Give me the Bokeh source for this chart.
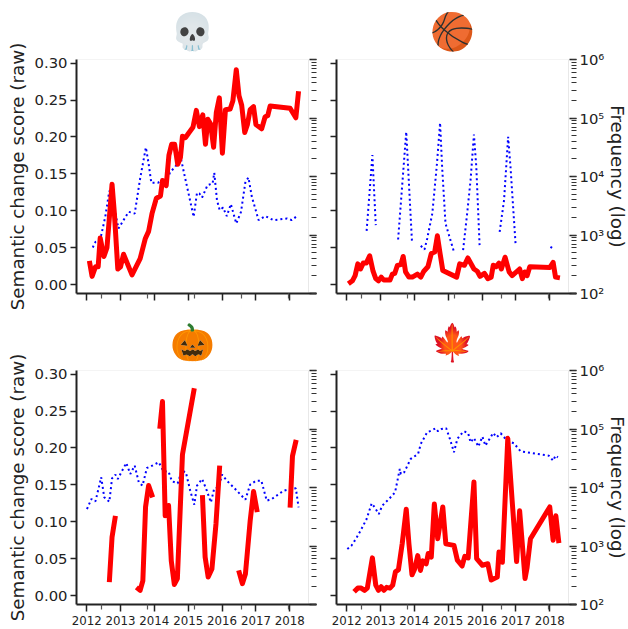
from bokeh.plotting import figure
from bokeh.layouts import column, row
from bokeh.models import (LinearAxis, LogAxis, Range1d, LogScale, FixedTicker, LogTicker, BoxAnnotation)
from bokeh.embed import file_html
from bokeh.resources import INLINE

nan = float("nan")

years = [2012, 2013, 2014, 2015, 2016, 2017, 2018]
twin_year_ticks = [2012.434, 2013.81, 2015.19, 2016.57, 2017.96]
score_ticks = [0.0, 0.05, 0.10, 0.15, 0.20, 0.25, 0.30]
score_labels = ["0.00", "0.05", "0.10", "0.15", "0.20", "0.25", "0.30"]
freq_labels = {100: "10²", 1000: "10³", 10000: "10⁴", 100000: "10⁵", 1000000: "10⁶"}
emoji = ["💀", "🏀", "🎃", "🍁"]

skull_score_x = [.08,.16,.26,.34,.40,.51,.60,.75,.82,.92,1.0,1.09,1.34,1.58,1.73,1.83,1.93,2.06,2.18,2.24,2.35,2.43,2.51,2.60,2.69,2.77,2.83,2.92,3.01,3.14,3.24,3.33,3.43,3.51,3.58,3.66,3.75,3.83,3.92,4.01,4.10,4.24,4.32,4.42,4.50,4.58,4.67,4.75,4.83,4.93,5.0,5.17,5.27,5.35,5.42,6.01,6.18,6.26]
skull_score = [.032,.011,.024,.024,.063,.038,.050,.136,.096,.021,.024,.041,.013,.035,.062,.072,.096,.117,.120,.141,.134,.175,.190,.190,.163,.172,.201,.199,.205,.213,.236,.214,.230,.190,.224,.218,.186,.233,.253,.178,.237,.238,.249,.291,.256,.243,.206,.217,.237,.241,.217,.211,.227,.229,.242,.239,.226,.262]
skull_freq_x = [.18,.26,.35,.43,.55,.67,.75,.85,.94,1.09,1.24,1.42,1.58,1.75,1.83,1.91,2.11,2.22,2.34,2.47,2.62,2.77,2.88,3.01,3.16,3.26,3.33,3.41,3.57,3.72,3.77,3.85,3.93,4.03,4.14,4.26,4.42,4.56,4.69,4.78,4.88,5.08,5.28,5.52,5.92,6.06,6.21]
skull_freq_log10 = [2.786,2.883,2.900,2.997,3.311,3.755,3.709,3.368,3.111,3.254,3.396,3.368,3.966,4.496,4.222,3.892,3.892,3.949,3.892,4.080,4.165,4.348,4.051,3.709,3.311,3.721,3.709,3.641,3.852,3.880,4.063,3.595,3.425,3.470,3.322,3.527,3.197,3.396,3.909,3.983,3.652,3.254,3.322,3.254,3.282,3.254,3.322]

ball_score_x = [.05,.17,.25,.33,.41,.49,.58,.68,.78,.86,.94,1.02,1.10,1.28,1.35,1.42,1.50,1.60,1.67,1.74,1.84,1.94,2.09,2.19,2.28,2.40,2.50,2.60,2.68,2.76,2.84,3.25,3.34,3.48,3.58,3.76,3.86,3.94,4.07,4.17,4.27,4.33,4.41,4.50,4.57,4.68,4.80,4.89,5.11,5.19,5.26,5.33,5.41,6.00,6.10,6.17,6.30]
ball_score = [.001,.005,.012,.028,.021,.029,.029,.039,.018,.008,.005,.010,.006,.006,.014,.015,.026,.027,.038,.017,.010,.010,.014,.010,.018,.024,.042,.044,.066,.042,.019,.010,.028,.026,.036,.021,.018,.011,.015,.008,.010,.026,.024,.029,.021,.037,.017,.012,.021,.008,.017,.012,.024,.023,.030,.010,.009]
ball_freq_x = [.59,.76,.86,nan,1.52,1.76,1.93,nan,2.19,2.30,2.38,2.53,2.66,2.76,2.82,2.92,3.17,nan,3.44,3.56,3.66,3.76,3.83,3.93,nan,4.52,4.65,4.77,4.84,4.99,nan,6.02,6.14]
ball_freq_log10 = [3.071,4.365,3.168,nan,2.923,4.764,2.883,nan,2.815,2.752,2.940,3.368,4.165,4.917,4.165,3.197,2.712,nan,2.741,3.368,3.937,4.718,4.165,2.786,nan,3.054,3.595,4.678,4.165,2.843,nan,2.798,2.752]

pumpkin_score_x = [.67,.75,.85,nan,1.47,1.58,1.66,1.74,1.83,1.95,nan,2.16,2.24,2.32,2.42,2.50,2.59,2.68,2.83,3.18,nan,3.42,3.50,3.59,3.70,3.82,3.93,nan,4.49,4.60,4.69,4.83,4.93,5.04,nan,6.01,6.08,6.19]
pumpkin_score = [.018,.079,.108,nan,.011,.007,.020,.120,.149,.133,nan,.226,.263,.108,.122,.047,.015,.023,.191,.281,nan,.136,.052,.025,.036,.097,.176,nan,.034,.016,.029,.101,.141,.113,nan,.119,.189,.211]
pumpkin_freq_x = [.01,.14,.26,.43,.52,.67,.75,.85,.92,1.17,1.29,1.42,1.54,1.65,1.78,1.88,2.13,2.27,2.42,2.52,2.69,2.81,2.93,3.06,3.18,3.26,3.41,3.55,3.67,3.77,3.90,4.00,4.14,4.34,4.69,4.83,5.01,5.16,5.32,5.47,5.82,6.01,6.18,6.26]
pumpkin_freq_log10 = [3.632,3.803,3.763,4.174,3.832,3.757,4.157,4.220,4.146,4.419,4.231,4.374,4.088,4.032,4.334,4.357,4.431,4.277,4.271,4.106,4.071,4.288,4.260,3.946,3.706,4.032,4.146,3.946,3.746,3.986,4.003,4.220,4.117,4.003,3.792,4.049,4.117,4.117,3.775,3.803,3.946,3.974,3.986,3.660]

leaf_score_x = [.22,.33,.43,.53,.61,.76,.86,.94,1.02,1.10,1.18,1.28,1.36,1.44,1.53,1.64,1.76,1.84,1.93,2.01,2.10,2.18,2.25,2.35,2.41,2.50,2.59,2.69,2.84,2.93,3.17,3.27,3.41,3.49,3.59,3.76,3.84,4.01,4.17,4.27,4.45,4.50,4.60,4.76,4.89,5.02,5.11,5.27,5.33,5.43,6.00,6.10,6.18,6.27]
leaf_score = [.005,.010,.010,.007,.010,.051,.014,.007,.012,.007,.011,.010,.014,.032,.035,.070,.117,.070,.028,.036,.054,.034,.047,.043,.057,.052,.124,.077,.120,.070,.068,.048,.040,.053,.051,.154,.050,.041,.043,.021,.025,.059,.045,.213,.128,.046,.115,.023,.038,.077,.120,.075,.108,.071]
leaf_freq_x = [.02,.14,.27,.41,.59,.74,.83,.95,1.05,1.25,1.43,1.57,1.60,1.70,1.89,2.11,2.19,2.38,2.50,2.63,2.70,2.80,2.94,3.05,3.17,3.27,3.37,3.47,3.59,3.66,3.76,3.89,4.01,4.10,4.33,4.43,4.55,4.74,4.94,5.14,5.33,5.63,5.97,6.10,6.17,6.24]
leaf_freq_log10 = [2.947,3.004,3.118,3.261,3.461,3.729,3.660,3.546,3.689,3.803,3.917,4.317,4.231,4.260,4.488,4.574,4.745,4.945,4.973,5.013,4.961,5.0,5.013,4.830,4.602,4.830,4.904,4.961,4.927,4.773,4.847,4.699,4.870,4.716,4.933,4.859,4.927,4.802,4.756,4.619,4.602,4.574,4.545,4.459,4.545,4.516]

FONT = "DejaVu Sans"
DARK = "#222222"
X0, X1, XS = 2011.7, 2018.79, 2018.554
Y0, Y1 = -0.0122, 0.3050


def panel(sx, sy, fx, fy, symbol, left, right, bottom, border_l, border_r, border_t, border_b):
    p = figure(frame_width=240, frame_height=234, x_range=Range1d(X0, X1), y_range=Range1d(Y0, Y1),
               title=symbol, title_location="above",
               output_backend="svg", toolbar_location=None, x_axis_location=None, y_axis_location=None,
               min_border_left=border_l, min_border_right=border_r, min_border_top=border_t, min_border_bottom=border_b,
               outline_line_color=None, background_fill_color="white", border_fill_color="white")
    p.grid.visible = False
    p.title.align = "left"
    p.title.offset = 94
    p.title.standoff = 14
    p.title.text_font = "Noto Color Emoji"
    p.title.text_font_size = "36px"
    p.title.text_font_style = "normal"
    p.extra_y_ranges = {"freq": Range1d(100, 1000000)}
    p.extra_y_scales = {"freq": LogScale()}

    box = BoxAnnotation(left=X0, right=XS, bottom=Y0, top=Y1, fill_color=None,
                        line_color="#b4b4b4", line_width=1, level="underlay")
    p.add_layout(box)

    xa = LinearAxis(ticker=FixedTicker(ticks=years, minor_ticks=twin_year_ticks))
    xa.major_tick_out, xa.major_tick_in = 7, 0
    xa.minor_tick_out, xa.minor_tick_in = 5, 0
    xa.major_tick_line_width = 1.5
    xa.minor_tick_line_width = 1.2
    xa.minor_tick_line_color = "#555555"
    xa.major_tick_line_color = DARK
    xa.axis_line_color = DARK
    xa.axis_line_width = 2
    xa.major_label_standoff = 4
    xa.major_label_text_font = FONT
    xa.major_label_text_font_size = "11.8px"
    xa.major_label_text_color = DARK
    xa.major_label_overrides = {y: (str(y) if bottom else "") for y in years}
    p.add_layout(xa, "below")

    ya = LinearAxis(ticker=FixedTicker(ticks=score_ticks))
    ya.major_tick_out, ya.major_tick_in = 6, 0
    ya.minor_tick_out, ya.minor_tick_in = 0, 0
    ya.major_tick_line_width = 1.5
    ya.major_tick_line_color = DARK
    ya.axis_line_color = DARK
    ya.axis_line_width = 2
    ya.major_label_standoff = 3
    ya.major_label_text_font = FONT
    ya.major_label_text_font_size = "14.8px"
    ya.major_label_text_color = DARK
    ya.major_label_overrides = {t: (l if left else "") for t, l in zip(score_ticks, score_labels)}
    if left:
        ya.axis_label = "Semantic change score (raw)"
        ya.axis_label_text_font = FONT
        ya.axis_label_text_font_size = "18.3px"
        ya.axis_label_text_font_style = "normal"
        ya.axis_label_text_color = DARK
        ya.axis_label_standoff = 4
    p.add_layout(ya, "left")

    ra = LogAxis(y_range_name="freq", ticker=LogTicker(num_minor_ticks=10))
    ra.axis_line_color = None
    ra.major_tick_in, ra.major_tick_out = 7, 0
    ra.minor_tick_in, ra.minor_tick_out = 5, 0
    ra.major_tick_line_width = 1.5
    ra.minor_tick_line_width = 1.2
    ra.major_tick_line_color = DARK
    ra.minor_tick_line_color = "#333333"
    ra.major_label_standoff = 3
    ra.major_label_text_font = FONT
    ra.major_label_text_font_size = "14.8px"
    ra.major_label_text_color = DARK
    ra.major_label_overrides = {k: (v if right else "") for k, v in freq_labels.items()}
    if right:
        ra.axis_label = "Frequency (log)"
        ra.axis_label_text_font = FONT
        ra.axis_label_text_font_size = "18.3px"
        ra.axis_label_text_font_style = "normal"
        ra.axis_label_text_color = DARK
        ra.axis_label_standoff = 0
        ra.axis_label_orientation = "vertical"
    p.add_layout(ra, "right")

    fxa = [2012 + v for v in fx]
    fya = [10 ** v for v in fy]
    p.line(fxa, fya, y_range_name="freq", line_color="blue", line_width=2, line_dash="2 3")
    p.line([2012 + v for v in sx], sy, line_color="red", line_width=5, line_join="round")
    return p


p1 = panel(skull_score_x, skull_score, skull_freq_x, skull_freq_log10, emoji[0], True, False, False, 76, 6, 59, 19)
p2 = panel(ball_score_x, ball_score, ball_freq_x, ball_freq_log10, emoji[1], False, True, False, 14, 44, 59, 19)
p3 = panel(pumpkin_score_x, pumpkin_score, pumpkin_freq_x, pumpkin_freq_log10, emoji[2], True, False, True, 76, 6, 58, 24)
p4 = panel(leaf_score_x, leaf_score, leaf_freq_x, leaf_freq_log10, emoji[3], False, True, True, 14, 44, 58, 24)

layout = column(row(p1, p2, spacing=0), row(p3, p4, spacing=0), spacing=0)
open("out.html", "w").write(file_html(layout, INLINE))
